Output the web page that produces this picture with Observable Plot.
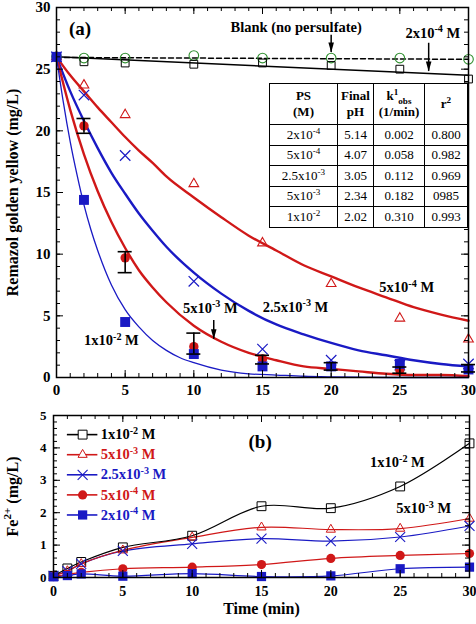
<!DOCTYPE html>
<html><head><meta charset="utf-8">
<script src="https://cdn.jsdelivr.net/npm/d3@7"></script>
<script src="https://cdn.jsdelivr.net/npm/@observablehq/plot@0.6"></script>
<style>
body{margin:0;background:#fff;}
#wrap{position:relative;width:476px;height:624px;font-family:"Liberation Serif","Times New Roman",Times,serif;background:#fff;}
#wrap svg{display:block;}
#tbl{position:absolute;left:269px;top:83px;width:198px;border-collapse:collapse;table-layout:fixed;background:#fff;font-size:13px;color:#000;}
#tbl td{border:1.5px solid #000;text-align:center;padding:0;line-height:1.2;}
#tbl tr.h td{font-weight:bold;height:40px;}
#tbl tr.r td{height:19.5px;}
#tbl sup,#tbl sub{font-size:70%;line-height:0;}
</style></head>
<body><div id="wrap"></div>
<script>
// ---------- Panel (a): Remazol golden yellow (mg/L) ----------
const timesA   = [0, 2, 5, 10, 15, 20, 25, 30];
const blankA   = [26.0, 25.9, 25.9, 26.1, 25.9, 25.9, 25.9, 25.8];
const ps2e4A   = [26.0, 25.6, 25.5, 25.4, 25.5, 25.3, 25.0, 24.2];
const ps5e4A   = [26.0, 23.7, 21.3, 15.7, 10.9, 7.6, 4.8, 3.1];
const ps25e3A  = [26.0, 22.9, 18.0, 7.8, 2.3, 1.4, 1.0, 1.1];
const ps5e3A   = [26.0, 20.4, 9.7, 2.5, 1.5, 0.9, 0.6, 0.7];
const ps5e3Lo  = [25.9, 19.8, 8.5, 1.9, 1.1, 0.6, 0.35, 0.45];
const ps5e3Hi  = [26.1, 21.0, 10.2, 3.6, 1.8, 1.2, 0.85, 1.05];
const ps1e2A   = [26.0, 14.4, 4.5, 1.9, 0.9, 0.9, 1.1, 0.65];

// fitted curves
const blankLineT = [0, 30];
const blankLineV = [25.95, 25.8];
const fit2e4T = [0, 30];
const fit2e4V = [26.0, 24.5];
const fitT    = [0, 1, 2, 3, 4, 5, 6, 7, 8, 10, 12, 14, 16, 18, 20, 22, 24, 26, 28, 30];
const fit5e4  = [26.0, 24.5, 23.2, 21.9, 20.7, 19.5, 18.4, 17.4, 16.3, 14.6, 13.0, 11.5, 10.3, 9.1, 8.2, 7.3, 6.5, 5.7, 5.1, 4.6];
const fit25e3 = [26.0, 23.2, 20.8, 18.6, 16.6, 14.9, 13.3, 11.9, 10.6, 8.5, 6.8, 5.4, 4.3, 3.5, 2.8, 2.2, 1.8, 1.4, 1.1, 0.9];
const fit5e3  = [26.0, 21.7, 18.1, 15.1, 12.6, 10.5, 8.7, 7.3, 6.1, 4.2, 2.9, 2.0, 1.4, 0.9, 0.7, 0.5, 0.3, 0.2, 0.2, 0.1];
const fit1e2T = [0, 0.5, 1, 1.5, 2, 2.5, 3, 4, 5, 6, 7, 8, 9, 10, 12, 14, 16, 18, 20, 25, 30];
const fit1e2  = [26.0, 22.3, 19.1, 16.4, 14.0, 12.0, 10.3, 7.5, 5.5, 4.1, 3.0, 2.2, 1.6, 1.2, 0.6, 0.3, 0.2, 0.1, 0.05, 0.0, 0.0];

// table
const tablePS  = ["2x10^{-4}", "5x10^{-4}", "2.5x10^{-3}", "5x10^{-3}", "1x10^{-2}"];
const tablePH  = ["5.14", "4.07", "3.05", "2.34", "2.02"];
const tableK   = ["0.002", "0.058", "0.112", "0.182", "0.310"];
const tableR2  = ["0.800", "0.982", "0.969", "0985", "0.993"];

// ---------- Panel (b): Fe2+ (mg/L) ----------
const timesB  = [0, 1, 2, 5, 10, 15, 20, 25, 30];
const fe1e2   = [0.05, 0.28, 0.48, 0.93, 1.29, 2.2, 2.14, 2.81, 4.14];
const fe5e3   = [0.05, 0.2, 0.42, 0.84, 1.24, 1.55, 1.48, 1.51, 1.82];
const fe25e3  = [0.05, 0.2, 0.42, 0.82, 1.04, 1.2, 1.12, 1.25, 1.59];
const fe5e4   = [0.03, 0.1, 0.16, 0.27, 0.32, 0.4, 0.59, 0.68, 0.74];
const fe2e4   = [0.02, 0.06, 0.11, 0.04, 0.12, 0.03, 0.05, 0.27, 0.32];
const legendLabels = ["1x10^{-2} M", "5x10^{-3} M", "2.5x10^{-3} M", "5x10^{-4} M", "2x10^{-4} M"];

// tick labels
const xTicks  = [0, 5, 10, 15, 20, 25, 30];
const yTicksA = [0, 5, 10, 15, 20, 25, 30];
const yTicksB = [0, 1, 2, 3, 4, 5];

// ---------- helpers ----------
const RED = "#d01818", BLUE = "#1a1ac4", GREEN = "#2f8f2f";
const FONT = "'Liberation Serif','Times New Roman',Times,serif";
const rows = (ts, vs) => ts.map((t, i) => ({t, v: vs[i]}));

function applySup(root) {
  root.querySelectorAll("text").forEach(t => {
    const s = t.textContent;
    if (!s.includes("^{")) return;
    while (t.firstChild) t.removeChild(t.firstChild);
    const parts = s.split(/(\^\{[^}]*\})/).filter(p => p);
    let raised = false;
    for (const p of parts) {
      const ts = document.createElementNS("http://www.w3.org/2000/svg", "tspan");
      if (p.startsWith("^{")) {
        ts.textContent = p.slice(2, -1);
        ts.setAttribute("font-size", "70%");
        ts.setAttribute("dy", "-0.55em");
        raised = true;
      } else {
        ts.textContent = p;
        if (raised) { ts.setAttribute("dy", "0.385em"); raised = false; }
      }
      t.appendChild(ts);
    }
  });
}
const supHTML = s => s.replace(/\^\{([^}]*)\}/g, "<sup>$1</sup>");

function frameTicks(xMaj, xMin, yMaj, yMin, innerW, innerH, maj = 7, mn = 4) {
  return [
    Plot.tickX(xMin, {x: d => d, insetTop: innerH - mn}),
    Plot.tickX(xMin, {x: d => d, insetBottom: innerH - mn}),
    Plot.tickX(xMaj, {x: d => d, insetTop: innerH - maj}),
    Plot.tickX(xMaj, {x: d => d, insetBottom: innerH - maj}),
    Plot.tickY(yMin, {y: d => d, insetRight: innerW - mn}),
    Plot.tickY(yMin, {y: d => d, insetLeft: innerW - mn}),
    Plot.tickY(yMaj, {y: d => d, insetRight: innerW - maj}),
    Plot.tickY(yMaj, {y: d => d, insetLeft: innerW - maj})
  ];
}

const headDown = {draw(ctx, size) {
  const h = Math.sqrt(size), w = h * 0.28;
  ctx.moveTo(0, 0); ctx.lineTo(-w, -h); ctx.lineTo(w, -h); ctx.closePath();
}};

// ---------- panel (a) ----------
const arrows = [
  {x: 20, top: 27.75, tip: 26.35},
  {x: 27.1, top: 27.1, tip: 24.82},
  {x: 11.45, top: 4.62, tip: 3.1}
];
const errA = timesA.map((t, i) => ({t, lo: ps5e3Lo[i], hi: ps5e3Hi[i]})).filter(d => d.t > 0);

const W = 476;
const topA = {h: 400, ml: 56, mr: 8, mt: 7, mb: 23};
const innerWA = W - topA.ml - topA.mr, innerHA = topA.h - topA.mt - topA.mb;

const plotA = Plot.plot({
  width: W, height: topA.h,
  marginLeft: topA.ml, marginRight: topA.mr, marginTop: topA.mt, marginBottom: topA.mb,
  x: {domain: [0, 30], label: null},
  y: {domain: [0, 30], label: null},
  style: {fontFamily: FONT, fontWeight: "bold", fontSize: "15px", color: "#000", background: "transparent", overflow: "visible"},
  marks: [
    Plot.line(rows(blankLineT, blankLineV), {x: "t", y: "v", stroke: "#000", strokeWidth: 1.5, strokeDasharray: "5,3"}),
    Plot.line(rows(fit2e4T, fit2e4V), {x: "t", y: "v", stroke: "#000", strokeWidth: 1.5}),
    Plot.line(rows(fitT, fit5e4), {x: "t", y: "v", stroke: RED, strokeWidth: 2.4, curve: "monotone-x"}),
    Plot.line(rows(fitT, fit25e3), {x: "t", y: "v", stroke: BLUE, strokeWidth: 2.4, curve: "monotone-x"}),
    Plot.line(rows(fitT, fit5e3), {x: "t", y: "v", stroke: RED, strokeWidth: 2.4, curve: "monotone-x"}),
    Plot.line(rows(fit1e2T, fit1e2), {x: "t", y: "v", stroke: BLUE, strokeWidth: 1.3, curve: "monotone-x"}),
    Plot.dot(rows(timesA, blankA), {x: "t", y: "v", symbol: "circle", r: 4.8, stroke: GREEN, strokeWidth: 1.1, fill: "none"}),
    Plot.dot(rows(timesA, ps2e4A), {x: "t", y: "v", symbol: "square", r: 4.4, stroke: "#000", strokeWidth: 1, fill: "none"}),
    Plot.dot(rows(timesA, ps5e4A), {x: "t", y: "v", symbol: "triangle", r: 3.6, stroke: RED, strokeWidth: 1.1, fill: "none"}),
    Plot.dot(rows(timesA, ps25e3A), {x: "t", y: "v", symbol: "times", r: 4.8, stroke: BLUE, strokeWidth: 1.2}),
    Plot.dot(rows(timesA, ps5e3A), {x: "t", y: "v", symbol: "circle", r: 4.7, fill: RED, stroke: "none"}),
    Plot.dot(rows(timesA, ps1e2A), {x: "t", y: "v", symbol: "square", r: 5.6, fill: BLUE, stroke: "none"}),
    Plot.ruleX(errA, {x: "t", y1: "lo", y2: "hi", stroke: "#000", strokeWidth: 1.6}),
    Plot.ruleY(errA, {y: "lo", x1: "t", x2: "t", insetLeft: -7, insetRight: -7, stroke: "#000", strokeWidth: 1.6}),
    Plot.ruleY(errA, {y: "hi", x1: "t", x2: "t", insetLeft: -7, insetRight: -7, stroke: "#000", strokeWidth: 1.6}),
    Plot.ruleX(arrows, {x: "x", y1: "top", y2: "tip", stroke: "#000", strokeWidth: 1.5}),
    Plot.dot(arrows, {x: "x", y: "tip", symbol: headDown, r: 5.6, fill: "#000", stroke: "none"}),
    Plot.text(["(a)"], {x: 1.72, y: 28.3, fontSize: 19}),
    Plot.text(["Blank (no persulfate)"], {x: 17.45, y: 28.4, fontSize: 14.5}),
    Plot.text(["2x10^{-4} M"], {x: 27.4, y: 27.9, fontSize: 14.5}),
    Plot.text(["5x10^{-4} M"], {x: 25.5, y: 7.3, fontSize: 14.5}),
    Plot.text(["2.5x10^{-3} M"], {x: 17.4, y: 5.7, fontSize: 14.5}),
    Plot.text(["5x10^{-3} M"], {x: 11.2, y: 5.6, fontSize: 14.5}),
    Plot.text(["1x10^{-2} M"], {x: 4.0, y: 3.0, fontSize: 14.5}),
    ...frameTicks(xTicks, d3.range(0, 31, 1), yTicksA, d3.range(0, 31, 1), innerWA, innerHA),
    Plot.frame({stroke: "#000", strokeWidth: 1.5}),
    Plot.axisX({ticks: xTicks, tickSize: 0, tickPadding: 7, fontSize: 15, label: null, tickFormat: d => String(d)}),
    Plot.axisY({ticks: yTicksA, tickSize: 0, tickPadding: 6, fontSize: 15, label: null, tickFormat: d => String(d)}),
    Plot.text(["Remazol golden yellow (mg/L)"], {frameAnchor: "left", textAnchor: "middle", dx: -44, rotate: -90, fontSize: 16})
  ]
});

// ---------- panel (b) ----------
const topB = {h: 224, ml: 53, mr: 7, mt: 15, mb: 47};
const innerWB = W - topB.ml - topB.mr, innerHB = topB.h - topB.mt - topB.mb;
const seriesB = [
  {v: fe1e2,  color: "#000", symbol: "square",   r: 5.0, fill: "none", sw: 1.0},
  {v: fe5e3,  color: RED,    symbol: "triangle", r: 3.4, fill: "none", sw: 1.0},
  {v: fe25e3, color: BLUE,   symbol: "times",    r: 4.6, fill: "none", sw: 1.1},
  {v: fe5e4,  color: RED,    symbol: "circle",   r: 4.6, fill: RED,    sw: 0},
  {v: fe2e4,  color: BLUE,   symbol: "square",   r: 5.2, fill: BLUE,   sw: 0}
];
const legendRows = legendLabels.map((label, i) => ({label, y: 4.41 - 0.62 * i, ...seriesB[i]}));

const plotB = Plot.plot({
  width: W, height: topB.h,
  marginLeft: topB.ml, marginRight: topB.mr, marginTop: topB.mt, marginBottom: topB.mb,
  x: {domain: [0, 30], label: null},
  y: {domain: [0, 5], label: null},
  style: {fontFamily: FONT, fontWeight: "bold", fontSize: "14px", color: "#000", background: "transparent", overflow: "visible"},
  marks: [
    ...seriesB.slice().reverse().map(s =>
      Plot.line(rows(timesB, s.v), {x: "t", y: "v", stroke: s.color, strokeWidth: 1.2, curve: "catmull-rom"})),
    ...seriesB.map(s =>
      Plot.dot(rows(timesB, s.v), {x: "t", y: "v", symbol: s.symbol, r: s.r,
        fill: s.fill, stroke: s.fill === "none" ? s.color : "none", strokeWidth: s.sw})),
    // legend
    ...legendRows.map(s => Plot.ruleY([s.y], {x1: 1.0, x2: 3.2, stroke: s.color, strokeWidth: 1.6})),
    ...legendRows.map(s => Plot.dot([s], {x: 2.1, y: "y", symbol: s.symbol, r: s.r,
        fill: s.fill === "none" ? "#fff" : s.fill, stroke: s.fill === "none" ? s.color : "none", strokeWidth: s.sw})),
    ...legendRows.map(s => Plot.text([s], {x: 3.4, y: "y", text: "label", textAnchor: "start", fill: s.color, fontSize: 14.5})),
    Plot.text(["(b)"], {x: 14.9, y: 4.17, fontSize: 19}),
    Plot.text(["1x10^{-2} M"], {x: 24.8, y: 3.55, fontSize: 14.5}),
    Plot.text(["5x10^{-3} M"], {x: 26.7, y: 2.13, fontSize: 14.5}),
    ...frameTicks(xTicks, d3.range(0, 31, 1), yTicksB, d3.range(0, 5.01, 0.2), innerWB, innerHB, 7, 4),
    Plot.frame({stroke: "#000", strokeWidth: 1.5}),
    Plot.axisX({ticks: xTicks, tickSize: 0, tickPadding: 9, fontSize: 14, label: null, tickFormat: d => String(d)}),
    Plot.axisY({ticks: yTicksB, tickSize: 0, tickPadding: 7, fontSize: 13, label: null, tickFormat: d => String(d)}),
    Plot.text(["Fe^{2+} (mg/L)"], {frameAnchor: "left", textAnchor: "middle", dx: -41, rotate: -90, fontSize: 16}),
    Plot.text(["Time (min)"], {frameAnchor: "bottom", dy: 36, fontSize: 16})
  ]
});

const wrap = document.getElementById("wrap");
wrap.appendChild(plotA);
wrap.appendChild(plotB);
applySup(plotA); applySup(plotB);

// table overlay
const tbl = document.createElement("table");
tbl.id = "tbl";
let html = '<colgroup><col style="width:68px"><col style="width:36px"><col style="width:51px"><col style="width:43px"></colgroup>';
html += '<tr class="h"><td>PS<br>(M)</td><td>Final<br>pH</td><td>k<sup>1</sup><sub>obs</sub><br>(1/min)</td><td>r<sup>2</sup></td></tr>';
tablePS.forEach((ps, i) => {
  html += `<tr class="r"><td>${supHTML(ps)}</td><td>${tablePH[i]}</td><td>${tableK[i]}</td><td>${tableR2[i]}</td></tr>`;
});
tbl.innerHTML = html;
wrap.appendChild(tbl);
</script></body></html>
